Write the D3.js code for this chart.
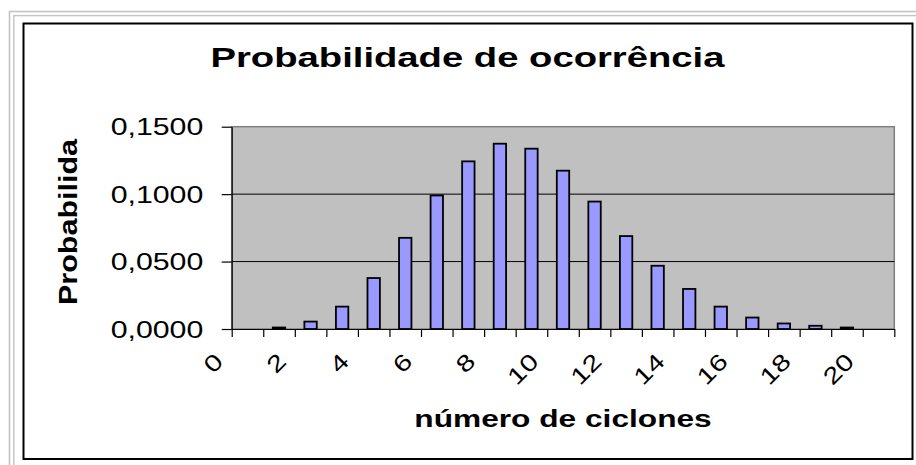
<!DOCTYPE html>
<html>
<head>
<meta charset="utf-8">
<script src="https://cdn.jsdelivr.net/npm/d3@7"></script>
<style>
  body { margin: 0; background: #fff; }
  text { font-family: "Liberation Sans", Arial, sans-serif; fill: #000; }
</style>
</head>
<body>
<div id="chart"></div>
<script>
// categories 0..20 (numero de ciclones)
var categories = d3.range(0, 21);
var probabilities = [0.0002, 0.0011, 0.0055, 0.0166, 0.0378, 0.0676, 0.0990, 0.1243, 0.1374, 0.1337, 0.1174,
                     0.0945, 0.0689, 0.0469, 0.0297, 0.0166, 0.0085, 0.0041, 0.0024, 0.0011, 0.0004];
var yTicks = [0, 0.05, 0.10, 0.15];
var xLabels = [0, 2, 4, 6, 8, 10, 12, 14, 16, 18, 20];

var width = 916;
var height = 465;

var plotLeft = 231.7, plotRight = 894.3, plotTop = 126.7, plotBottom = 329;

var svg = d3.select('#chart')
    .append('svg')
        .attr('width', width)
        .attr('height', height);

// outer grey double frame
svg.append('rect')
    .attr('x', 9.5).attr('y', 11.5)
    .attr('width', 1000).attr('height', 1000)
    .style('fill', 'none').style('stroke', '#c4c4c4').style('stroke-width', 1.6);
svg.append('rect')
    .attr('x', 13.8).attr('y', 15.6)
    .attr('width', 1000).attr('height', 1000)
    .style('fill', 'none').style('stroke', '#c4c4c4').style('stroke-width', 1.4);

// chart area frame
svg.append('rect')
    .attr('x', 23.5).attr('y', 23.5)
    .attr('width', 889).attr('height', 435.5)
    .style('fill', '#fff').style('stroke', '#000').style('stroke-width', 2);

var x = d3.scaleBand()
    .domain(categories)
    .range([plotLeft, plotRight])
    .padding(0);

var xEdges = d3.scaleLinear()
    .domain([0, categories.length])
    .range([plotLeft, plotRight]);

var y = d3.scaleLinear()
    .domain([0, 0.15])
    .range([plotBottom, plotTop]);

// plot area
svg.append('rect')
    .attr('x', plotLeft).attr('y', plotTop)
    .attr('width', plotRight - plotLeft).attr('height', plotBottom - plotTop)
    .style('fill', '#c0c0c0')
    .style('stroke', '#808080')
    .style('stroke-width', 1.5);

// gridlines
svg.selectAll('.grid')
    .data(yTicks.filter(function(d) { return d > 0 && d < 0.15; }))
    .enter()
        .append('line')
        .attr('class', 'grid')
        .attr('x1', plotLeft).attr('x2', plotRight)
        .attr('y1', function(d) { return y(d); })
        .attr('y2', function(d) { return y(d); })
        .style('stroke', '#000').style('stroke-width', 1);

// bars (skip the ones that would be under a pixel tall)
var barW = 12.4;
svg.selectAll('.bar')
    .data(categories.filter(function(c, i) { return y(0) - y(probabilities[i]) >= 1; }))
    .enter()
        .append('rect')
        .attr('class', 'bar')
        .attr('x', function(c) { return x(c) + (x.bandwidth() - barW) / 2; })
        .attr('y', function(c) { return y(probabilities[c]); })
        .attr('width', barW)
        .attr('height', function(c) { return y(0) - y(probabilities[c]); })
        .style('fill', '#9999ff')
        .style('stroke', '#000')
        .style('stroke-width', 1.8);

// y axis
var yAxis = svg.append('g')
    .attr('transform', 'translate(' + plotLeft + ',0)')
    .call(d3.axisLeft(y)
        .tickValues(yTicks)
        .tickSize(10)
        .tickSizeOuter(0)
        .tickFormat(function(d) { return d3.format('.4f')(d).replace('.', ','); }));
yAxis.select('.domain').style('stroke', '#000').style('stroke-width', 1.2);
yAxis.selectAll('line').style('stroke', '#000').style('stroke-width', 1.2);
yAxis.selectAll('text')
    .attr('x', null)
    .attr('dy', '0.35em')
    .attr('transform', 'translate(-28.4,0) scale(1.3,1)')
    .style('font-size', '23.3px')
    .style('font-family', '"Liberation Sans", Arial, sans-serif')
    .style('fill', '#000');

// x axis (ticks between categories)
var xAxis = svg.append('g')
    .attr('transform', 'translate(0,' + plotBottom + ')')
    .call(d3.axisBottom(xEdges)
        .tickValues(d3.range(0, categories.length + 1))
        .tickSize(8)
        .tickSizeOuter(0)
        .tickFormat(''));
xAxis.select('.domain').style('stroke', '#000').style('stroke-width', 1.2);
xAxis.selectAll('line').style('stroke', '#000').style('stroke-width', 1.2);

// rotated category labels
svg.selectAll('.xlabel')
    .data(xLabels)
    .enter()
        .append('text')
        .attr('class', 'xlabel')
        .attr('text-anchor', 'end')
        .attr('transform', function(d) {
            var cx = x(d) + x.bandwidth() / 2 - 23;
            return 'translate(' + cx + ',' + (plotBottom + 34) + ') rotate(-45) scale(1.28,1)';
        })
        .style('font-size', '23px')
        .text(function(d) { return d; });

// titles
svg.append('text')
    .attr('text-anchor', 'middle')
    .attr('transform', 'translate(467.5,67.3) scale(1.365,1)')
    .style('font-size', '28px')
    .style('font-weight', 'bold')
    .text('Probabilidade de ocorrência');

svg.append('text')
    .attr('text-anchor', 'middle')
    .attr('transform', 'translate(' + ((plotLeft + plotRight) / 2) + ',426.7) scale(1.32,1)')
    .style('font-size', '24px')
    .style('font-weight', 'bold')
    .text('número de ciclones');

svg.append('text')
    .attr('text-anchor', 'middle')
    .attr('transform', 'translate(76.7,222) rotate(-90) scale(1.22,1)')
    .style('font-size', '25px')
    .style('font-weight', 'bold')
    .text('Probabilida');
</script>
</body>
</html>
